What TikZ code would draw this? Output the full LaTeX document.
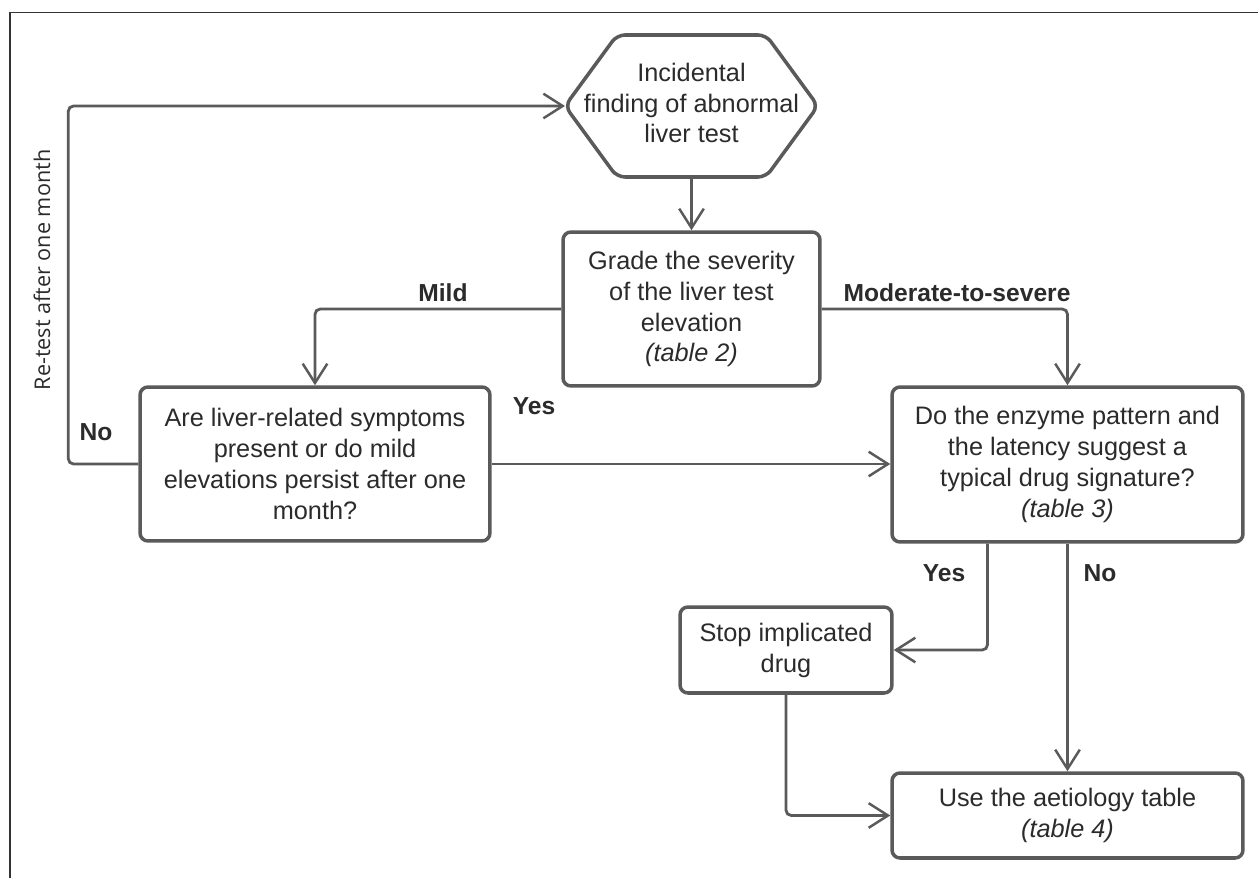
\documentclass[tikz,border=0pt]{standalone}
\usepackage{fontspec}
\setmainfont{Liberation Sans}
\newfontfamily\osans{Open Sans}
\usetikzlibrary{arrows.meta,calc,positioning}
\definecolor{lin}{HTML}{5A5A5A}
\definecolor{txt}{HTML}{2B2B2B}
\tikzset{
  box/.style={draw=lin, line width=2pt, rounded corners=4.5pt, inner sep=0pt, align=center,
    text=txt, font=\fontsize{14.4}{17.6}\selectfont},
  arr/.style={draw=lin, line width=1.6pt, rounded corners=3pt,
    -{Straight Barb[length=11pt,width=14pt,line width=1.4pt]}},
  lbl/.style={text=txt, font=\fontsize{14}{17}\selectfont\bfseries, inner sep=0pt},
}
\begin{document}
\begin{tikzpicture}[x=0.02cm,y=-0.02cm]
\useasboundingbox (0,0) rectangle (1258,878);
\clip (0,0) rectangle (1258,878);
\fill[white] (0,0) rectangle (1258,878);
% outer frame (only top and left visible)
\draw[line width=1.1pt, color=black!80] (10,900) -- (10,12.5) -- (1280,12.5);

% hexagon start
\draw[draw=lin, line width=2pt, rounded corners=4.5pt]
  (617,35) -- (766,35) -- (818,106) -- (766,177) -- (617,177) -- (565,106) -- cycle;
\coordinate (hexL) at (565,106);
\coordinate (hexB) at (691.5,177);
\node[align=center, text=txt, font=\fontsize{14.4}{17.6}\selectfont, inner sep=0pt] (hex) at (691.5,103)
  {Incidental\\finding of abnormal\\liver test};

\node[box, minimum width=5.14cm, minimum height=3.08cm] (grade) at (691.5,309)
  {Grade the severity\\of the liver test\\elevation\\\textit{(table 2)}};
\node[box, minimum width=7.0cm, minimum height=3.08cm] (are) at (315,464)
  {Are liver-related symptoms\\present or do mild\\elevations persist after one\\month?};
\node[box, minimum width=7.02cm, minimum height=3.1cm] (do) at (1067.5,464.5)
  {Do the enzyme pattern and\\the latency suggest a\\typical drug signature?\\\textit{(table 3)}};
\node[box, minimum width=4.24cm, minimum height=1.72cm] (stop) at (786,650)
  {Stop implicated\\drug};
\node[box, minimum width=7.02cm, minimum height=1.7cm] (use) at (1067.5,815.5)
  {Use the aetiology table\\\textit{(table 4)}};

% connectors
\draw[arr] (hexB) -- (grade.north);
\draw[arr] (grade.west) -| (are.north);
\draw[arr] (grade.east) -| (do.north);
\draw[arr] (are.east) -- (are.east -| do.west);
\draw[arr] (are.west) -- ++(-70,0) |- (hexL);
\draw[arr] ($(do.south)+(-80,0)$) |- (stop.east);
\draw[arr] (do.south) -- (use.north);
\draw[arr] (stop.south) |- (use.west);

% labels
\node[lbl] (lmild) at (443,293) {Mild};
\node[lbl] (lmod) at (957,293) {Moderate-to-severe};
\node[lbl] (lyes1) at (534,406) {Yes};
\node[lbl] (lno1) at (96,432) {No};
\node[lbl] (lyes2) at (944,573) {Yes};
\node[lbl] (lno2) at (1100,573) {No};
\node[text=txt, font=\osans\fontsize{12.3}{14}\selectfont, rotate=90, inner sep=0pt] (retest) at (42,270)
  {Re-test after one month};
\end{tikzpicture}
\end{document}
